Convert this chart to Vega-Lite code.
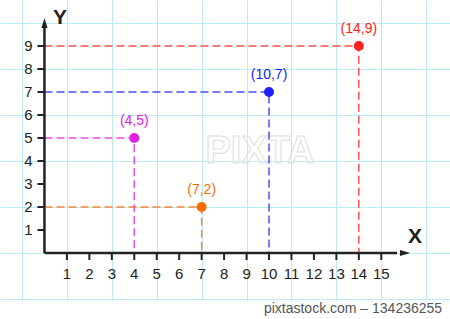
{
  "$schema": "https://vega.github.io/schema/vega-lite/v6.json",
  "width": 450,
  "height": 319,
  "autosize": {"type": "fit", "contains": "padding"},
  "padding": 0,
  "background": "white",
  "config": {"view": {"stroke": null}},
  "datasets": {
    "points": [
      {"x": 4, "y": 5, "label": "(4,5)", "name": "m"},
      {"x": 7, "y": 2, "label": "(7,2)", "name": "o"},
      {"x": 10, "y": 7, "label": "(10,7)", "name": "b"},
      {"x": 14, "y": 9, "label": "(14,9)", "name": "r"}
    ],
    "guides": [
      {"name": "m", "k": 0, "x": 0, "y": 5}, {"name": "m", "k": 1, "x": 4, "y": 5}, {"name": "m", "k": 2, "x": 4, "y": 0},
      {"name": "o", "k": 0, "x": 0, "y": 2}, {"name": "o", "k": 1, "x": 7, "y": 2}, {"name": "o", "k": 2, "x": 7, "y": 0},
      {"name": "b", "k": 0, "x": 0, "y": 7}, {"name": "b", "k": 1, "x": 10, "y": 7}, {"name": "b", "k": 2, "x": 10, "y": 0},
      {"name": "r", "k": 0, "x": 0, "y": 9}, {"name": "r", "k": 1, "x": 14, "y": 9}, {"name": "r", "k": 2, "x": 14, "y": 0}
    ],
    "xticks": [{"x":1,"y":0},{"x":2,"y":0},{"x":3,"y":0},{"x":4,"y":0},{"x":5,"y":0},{"x":6,"y":0},{"x":7,"y":0},{"x":8,"y":0},{"x":9,"y":0},{"x":10,"y":0},{"x":11,"y":0},{"x":12,"y":0},{"x":13,"y":0},{"x":14,"y":0},{"x":15,"y":0}],
    "yticks": [{"x":0,"y":1},{"x":0,"y":2},{"x":0,"y":3},{"x":0,"y":4},{"x":0,"y":5},{"x":0,"y":6},{"x":0,"y":7},{"x":0,"y":8},{"x":0,"y":9}]
  },
  "layer": [
    {
      "data": {"values": [{"x": -3, "x2": 20, "y": -3, "y2": -2.09}]},
      "mark": {"type": "rect", "color": "white", "clip": true},
      "encoding": {
        "x": {"field": "x", "type": "quantitative",
              "scale": {"domain": [-1.98, 18.06], "nice": false, "zero": false},
              "axis": {"title": null, "grid": true, "labels": false, "ticks": false, "domain": false,
                       "values": [-1,0,1,2,3,4,5,6,7,8,9,10,11,12,13,14,15,16,17,18],
                       "gridColor": "#b8ecf6", "gridWidth": 1, "gridOpacity": 1}},
        "x2": {"field": "x2"},
        "y": {"field": "y", "type": "quantitative",
              "scale": {"domain": [-2.87, 11.0], "nice": false, "zero": false},
              "axis": {"title": null, "grid": true, "labels": false, "ticks": false, "domain": false,
                       "values": [-2,-1,0,1,2,3,4,5,6,7,8,9,10,11],
                       "gridColor": "#b8ecf6", "gridWidth": 1, "gridOpacity": 1}},
        "y2": {"field": "y2"}
      }
    },
    {
      "data": {"values": [{"t": "PIXTA", "x": 9.6, "y": 4.39}]},
      "mark": {"type": "text", "font": "Liberation Sans", "fontSize": 38, "fontWeight": "bold",
               "fill": "white", "fillOpacity": 0.3, "stroke": "#dedede", "strokeWidth": 1},
      "encoding": {
        "x": {"field": "x", "type": "quantitative"},
        "y": {"field": "y", "type": "quantitative"},
        "text": {"field": "t", "type": "nominal"}
      }
    },
    {
      "data": {"values": [{"t": "pixtastock.com – 134236255", "x": 13.74, "y": -2.45}]},
      "mark": {"type": "text", "font": "Liberation Sans", "fontSize": 14, "color": "#555555"},
      "encoding": {
        "x": {"field": "x", "type": "quantitative"},
        "y": {"field": "y", "type": "quantitative"},
        "text": {"field": "t", "type": "nominal"}
      }
    },
    {
      "data": {"name": "guides"},
      "mark": {"type": "line", "strokeDash": [8, 4], "strokeWidth": 1.5, "opacity": 0.8},
      "encoding": {
        "x": {"field": "x", "type": "quantitative"},
        "y": {"field": "y", "type": "quantitative"},
        "order": {"field": "k", "type": "quantitative"},
        "color": {"field": "name", "type": "nominal", "legend": null,
                  "scale": {"domain": ["m", "o", "b", "r"], "range": ["#dd22dd", "#ff6a00", "#2020ff", "#ff2020"]}}
      }
    },
    {
      "data": {"values": [{"x": 0, "y": 0, "x2": 15.7, "y2": 0}, {"x": 0, "y": 0, "x2": 0, "y2": 9.8}]},
      "mark": {"type": "rule", "color": "#222222", "strokeWidth": 2.5},
      "encoding": {
        "x": {"field": "x", "type": "quantitative"},
        "x2": {"field": "x2"},
        "y": {"field": "y", "type": "quantitative"},
        "y2": {"field": "y2"}
      }
    },
    {
      "data": {"name": "xticks"},
      "mark": {"type": "tick", "orient": "vertical", "color": "#222222", "size": 7, "thickness": 2, "yOffset": 3.5, "opacity": 1},
      "encoding": {
        "x": {"field": "x", "type": "quantitative"},
        "y": {"field": "y", "type": "quantitative"}
      }
    },
    {
      "data": {"name": "yticks"},
      "mark": {"type": "tick", "orient": "horizontal", "color": "#222222", "size": 7, "thickness": 2, "xOffset": -3.5, "opacity": 1},
      "encoding": {
        "x": {"field": "x", "type": "quantitative"},
        "y": {"field": "y", "type": "quantitative"}
      }
    },
    {
      "data": {"name": "xticks"},
      "mark": {"type": "text", "font": "Liberation Sans", "fontSize": 15, "color": "#222222", "dy": 21},
      "encoding": {
        "x": {"field": "x", "type": "quantitative"},
        "y": {"field": "y", "type": "quantitative"},
        "text": {"field": "x", "type": "quantitative"}
      }
    },
    {
      "data": {"name": "yticks"},
      "mark": {"type": "text", "font": "Liberation Sans", "fontSize": 15, "color": "#222222", "dx": -16},
      "encoding": {
        "x": {"field": "x", "type": "quantitative"},
        "y": {"field": "y", "type": "quantitative"},
        "text": {"field": "y", "type": "quantitative"}
      }
    },
    {
      "data": {"values": [{"x": 16.06, "y": 0, "s": "M0.5,0 L-0.5,0.3 L-0.5,-0.3 Z"}, {"x": 0, "y": 10.0, "s": "M0,-0.5 L0.3,0.5 L-0.3,0.5 Z"}]},
      "mark": {"type": "point", "filled": true, "color": "#222222", "size": 420, "opacity": 1},
      "encoding": {
        "x": {"field": "x", "type": "quantitative"},
        "y": {"field": "y", "type": "quantitative"},
        "shape": {"field": "s", "type": "nominal", "scale": null, "legend": null}
      }
    },
    {
      "data": {"values": [{"t": "X", "x": 16.5, "y": 0.7}, {"t": "Y", "x": 0.69, "y": 10.2}]},
      "mark": {"type": "text", "font": "Liberation Sans", "fontSize": 21, "fontWeight": "bold", "color": "#222222"},
      "encoding": {
        "x": {"field": "x", "type": "quantitative"},
        "y": {"field": "y", "type": "quantitative"},
        "text": {"field": "t", "type": "nominal"}
      }
    },
    {
      "data": {"name": "points"},
      "mark": {"type": "circle", "size": 100, "opacity": 1},
      "encoding": {
        "x": {"field": "x", "type": "quantitative"},
        "y": {"field": "y", "type": "quantitative"},
        "color": {"field": "name", "type": "nominal", "legend": null}
      }
    },
    {
      "data": {"name": "points"},
      "mark": {"type": "text", "font": "Liberation Sans", "fontSize": 14, "dy": -17},
      "encoding": {
        "x": {"field": "x", "type": "quantitative"},
        "y": {"field": "y", "type": "quantitative"},
        "text": {"field": "label", "type": "nominal"},
        "color": {"field": "name", "type": "nominal", "legend": null}
      }
    }
  ]
}
